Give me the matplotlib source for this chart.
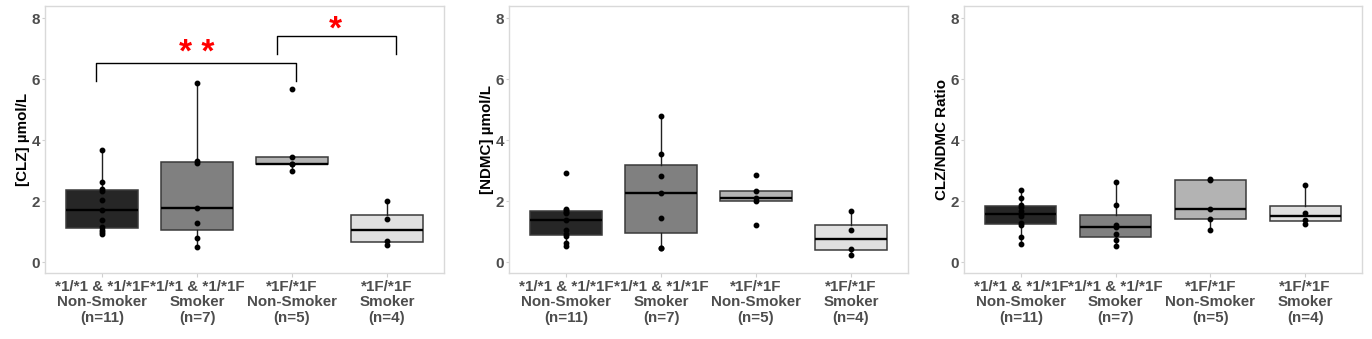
import numpy as np
import matplotlib
matplotlib.use("Agg")
import matplotlib.pyplot as plt

plt.rcParams['font.family'] = ['Liberation Sans', 'DejaVu Sans']
plt.rcParams['font.weight'] = 'bold'

# group labels (x axis)
groups = ["*1/*1 & *1/*1F\nNon-Smoker\n(n=11)",
          "*1/*1 & *1/*1F\nSmoker\n(n=7)",
          "*1F/*1F\nNon-Smoker\n(n=5)",
          "*1F/*1F\nSmoker\n(n=4)"]
box_colors = ["#262626", "#808080", "#b3b3b3", "#e0e0e0"]

# CLZ concentration, one list per group
clz_g1 = [0.93, 0.99, 1.06, 1.15, 1.37, 1.71, 2.04, 2.33, 2.38, 2.62, 3.66]
clz_g2 = [0.50, 0.79, 1.29, 1.78, 3.25, 3.33, 5.87]
clz_g3 = [2.99, 3.22, 3.22, 3.45, 5.69]
clz_g4 = [0.57, 0.70, 1.40, 2.00]

# NDMC concentration
ndmc_g1 = [0.52, 0.64, 0.84, 0.93, 1.04, 1.39, 1.60, 1.65, 1.70, 1.75, 2.92]
ndmc_g2 = [0.45, 0.46, 1.45, 2.27, 2.82, 3.54, 4.79]
ndmc_g3 = [1.21, 2.00, 2.09, 2.32, 2.84]
ndmc_g4 = [0.24, 0.44, 1.06, 1.67]

# CLZ/NDMC ratio
ratio_g1 = [0.60, 0.81, 1.23, 1.28, 1.50, 1.56, 1.67, 1.81, 1.86, 2.11, 2.35]
ratio_g2 = [0.53, 0.71, 0.93, 1.16, 1.21, 1.87, 2.62]
ratio_g3 = [1.06, 1.40, 1.74, 2.70, 2.74]
ratio_g4 = [1.26, 1.37, 1.62, 2.52]

panels = [
    ("[CLZ] µmol/L", [clz_g1, clz_g2, clz_g3, clz_g4]),
    ("[NDMC] µmol/L", [ndmc_g1, ndmc_g2, ndmc_g3, ndmc_g4]),
    ("CLZ/NDMC Ratio", [ratio_g1, ratio_g2, ratio_g3, ratio_g4]),
]

W, H = 1372, 339
fig = plt.figure(figsize=(W / 100, H / 100), dpi=100)
lefts = [45, 509, 964]
widths = [399, 399, 398]
fs = 10.9

axes = []
for i, (ylab, data) in enumerate(panels):
    ax = fig.add_axes([lefts[i] / W, 1 - 273 / H, widths[i] / W, 267 / H])
    axes.append(ax)
    pos = np.arange(1, len(data) + 1)
    bp = ax.boxplot(data, positions=pos, widths=0.75, whis=1.5, patch_artist=True,
                    showfliers=False, showcaps=False,
                    medianprops=dict(color='black', linewidth=1.7),
                    whiskerprops=dict(color='#222222', linewidth=1.0),
                    boxprops=dict(edgecolor='#3a3a3a', linewidth=1.1))
    for patch, c in zip(bp['boxes'], box_colors):
        patch.set_facecolor(c)
    for p, vals in zip(pos, data):
        ax.plot([p] * len(vals), vals, 'o', color='black', markersize=3.2, zorder=5)

    ax.set_xlim(0.4, 4.6)
    ax.set_ylim(-0.36, 8.4)
    ax.set_yticks([0, 2, 4, 6, 8])
    ax.set_xticks(pos)
    ax.set_xticklabels(groups, fontsize=fs, fontweight='bold', color='#4d4d4d',
                       linespacing=1.12)
    ax.tick_params(axis='y', labelsize=fs, labelcolor='#4d4d4d', color='#d0d0d0',
                   length=2, pad=1.5)
    ax.tick_params(axis='x', color='#d0d0d0', length=3, pad=2)
    for s in ax.spines.values():
        s.set_color('#d9d9d9')
        s.set_linewidth(1.0)
    ax.set_ylabel(ylab, fontsize=fs, fontweight='bold', color='black')
    ax.yaxis.set_label_coords(-0.038, 0.5)

# significance brackets on the CLZ panel
ax = axes[0]
ax.plot([0.94, 0.94, 3.04, 3.04], [5.94, 6.52, 6.52, 5.94], color='black', lw=1.0)
ax.text(2.0, 6.85, "* *", color='red', fontsize=24, ha='center', va='center', fontweight='bold')
ax.plot([2.84, 2.84, 4.09, 4.09], [6.83, 7.42, 7.42, 6.83], color='black', lw=1.0)
ax.text(3.46, 7.62, "*", color='red', fontsize=24, ha='center', va='center', fontweight='bold')

fig.savefig("out.png", dpi=100)
